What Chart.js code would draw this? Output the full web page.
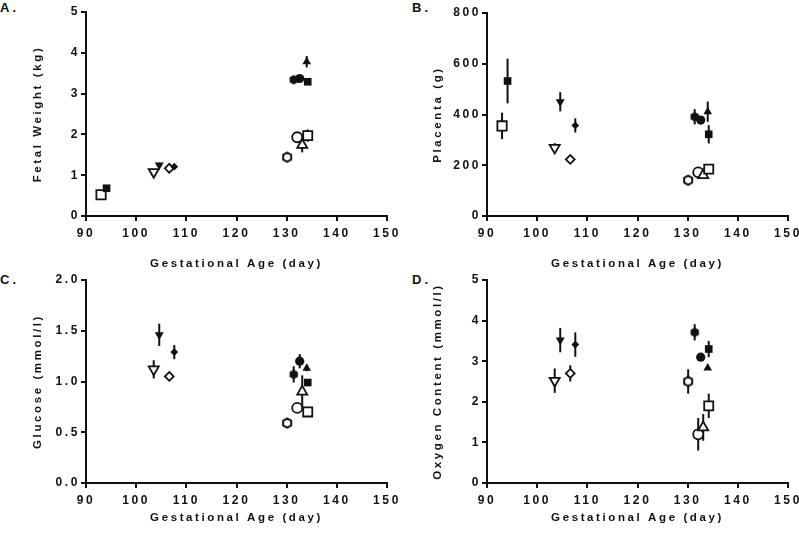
<!DOCTYPE html>
<html>
<head>
<meta charset="utf-8">
<script src="https://cdn.jsdelivr.net/npm/chart.js@4.4.1/dist/chart.umd.min.js"></script>
<style>
  body { margin: 0; width: 799px; height: 533px; overflow: hidden; background: #fff; position: relative; }
  .panel { position: absolute; }
  .tag { position: absolute; font: bold 13px "Liberation Sans", Arial, sans-serif; letter-spacing: 3px; color: #111; }
</style>
</head>
<body>
<div class="tag" style="left:0;top:0">A.</div>
<div class="tag" style="left:412px;top:0">B.</div>
<div class="tag" style="left:0;top:272px">C.</div>
<div class="tag" style="left:412px;top:272px">D.</div>
<div class="panel" style="left:0;top:0;width:420px;height:279px"><canvas id="chart-a"></canvas></div>
<div class="panel" style="left:400px;top:0;width:420px;height:279px"><canvas id="chart-b"></canvas></div>
<div class="panel" style="left:0;top:266px;width:420px;height:267px"><canvas id="chart-c"></canvas></div>
<div class="panel" style="left:400px;top:266px;width:420px;height:267px"><canvas id="chart-d"></canvas></div>
<script>
// gestational age (day) of each group, same order in every panel
const days = [93, 94.1, 103.5, 104.6, 106.6, 107.6, 130.1, 132.1, 133.1, 134.2, 131.4, 132.6, 134.0, 134.2];

const fetalWeight = [0.52, 0.68, 1.08, 1.25, 1.17, 1.21, 1.44, 1.93, 1.74, 1.97, 3.34, 3.37, 3.78, 3.29];
const fetalWeightErr = [0.05, 0.03, 0.05, 0.06, 0.04, 0.04, 0.05, 0.05, 0.18, 0.15, 0.08, 0.05, 0.14, 0.08];

const placenta = [355, 532, 269, 450, 223, 357, 141, 172, 161, 185, 391, 378, 411, 322];
const placentaErr = [52, 88, 18, 38, 10, 28, 8, 10, 15, 20, 30, 12, 40, 36];

const glucose = [null, null, 1.12, 1.46, 1.05, 1.29, 0.59, 0.74, 0.90, 0.70, 1.07, 1.20, 1.13, 0.99];
const glucoseErr = [null, null, 0.09, 0.11, 0.02, 0.07, 0.04, 0.03, 0.16, 0.05, 0.08, 0.07, 0.03, 0.03];

const oxygen = [null, null, 2.52, 3.52, 2.70, 3.41, 2.50, 1.20, 1.37, 1.90, 3.71, 3.10, 2.83, 3.30];
const oxygenErr = [null, null, 0.3, 0.3, 0.2, 0.3, 0.3, 0.4, 0.33, 0.3, 0.2, 0.05, 0.05, 0.2];

const xTicks = [90, 100, 110, 120, 130, 140, 150];

// marker look per group
function hexagon(r, filled) {
  const c = document.createElement('canvas');
  c.width = c.height = Math.ceil(r * 2 + 4);
  const g = c.getContext('2d');
  g.beginPath();
  for (let k = 0; k < 6; k++) {
    const a = Math.PI / 6 + k * Math.PI / 3;
    const px = c.width / 2 + r * Math.cos(a), py = c.height / 2 + r * Math.sin(a);
    k ? g.lineTo(px, py) : g.moveTo(px, py);
  }
  g.closePath();
  g.fillStyle = filled ? '#111' : '#fff';
  g.fill();
  if (!filled) { g.lineWidth = 2; g.strokeStyle = '#111'; g.stroke(); }
  return c;
}
const hexOpen = hexagon(4.6, false);
const hexFill = hexagon(4.8, true);

const shapes = ['rect', 'rect', 'triangle', 'triangle', 'rectRot', 'rectRot', hexOpen, 'circle', 'triangle', 'rect', hexFill, 'circle', 'triangle', 'rect'];
const filled = [false, true, false, true, false, true, false, false, false, false, true, true, true, true];
const rotation = [0, 0, 180, 180, 0, 0, 0, 0, 0, 0, 0, 0, 0, 0];
const radius = [6.6, 5.4, 5.8, 5.2, 4.4, 3.9, 5, 5, 5.8, 6.4, 5, 4.6, 5, 5.4];

const tickFont = { family: 'Liberation Sans', size: 12, weight: 'bold' };
const titleFont = { family: 'Liberation Sans', size: 11.5, weight: 'bold' };

const spacing = {
  id: 'spacing',
  beforeLayout(chart) { chart.ctx.letterSpacing = '2.6px'; },
  beforeDraw(chart) { chart.ctx.letterSpacing = '2.6px'; }
};

const errorBars = {
  id: 'errorBars',
  beforeDatasetsDraw(chart) {
    const { ctx, scales: { x, y } } = chart;
    const ds = chart.data.datasets[0];
    ctx.save();
    ctx.strokeStyle = '#111';
    ctx.lineWidth = 2;
    ds.data.forEach((p, i) => {
      const e = ds.errors[i];
      if (p.y == null || !e) return;
      const px = x.getPixelForValue(p.x);
      ctx.beginPath();
      ctx.moveTo(px, y.getPixelForValue(p.y + e));
      ctx.lineTo(px, y.getPixelForValue(p.y - e));
      ctx.stroke();
    });
    ctx.restore();
  }
};

function makeChart(id, values, errors, yMax, yStep, yTitle, yWidth, xHeight, pad) {
  const ctx = document.getElementById(id).getContext('2d');
  return new Chart(ctx, {
    type: 'scatter',
    data: {
      datasets: [{
        data: days.map((d, i) => ({ x: d, y: values[i] })),
        errors: errors,
        pointStyle: shapes,
        pointRotation: rotation,
        pointRadius: radius,
        pointBorderWidth: filled.map(f => f ? 0 : 1.8),
        pointBackgroundColor: filled.map(f => f ? '#111' : '#fff'),
        pointBorderColor: '#111'
      }]
    },
    options: {
      responsive: true,
      maintainAspectRatio: false,
      animation: false,
      events: [],
      layout: { padding: pad },
      plugins: { legend: { display: false }, tooltip: { enabled: false } },
      scales: {
        x: {
          type: 'linear', min: 90, max: 150,
          afterBuildTicks: s => { s.ticks = xTicks.map(v => ({ value: v })); },
          afterFit: s => { s.height = xHeight; },
          ticks: { font: tickFont, color: '#111', padding: 5 },
          grid: { drawOnChartArea: false, tickLength: 5, color: '#111', lineWidth: 2 },
          border: { color: '#111', width: 2 },
          title: { display: true, text: 'Gestational Age (day)', font: titleFont, color: '#111', padding: { top: 4, bottom: 8 } }
        },
        y: {
          min: 0, max: yMax,
          afterFit: s => { s.width = yWidth; },
          ticks: { stepSize: yStep, font: tickFont, color: '#111', padding: 1,
                   callback: v => yStep < 1 ? v.toFixed(1) : String(v) },
          grid: { drawOnChartArea: false, tickLength: 5, color: '#111', lineWidth: 2 },
          border: { color: '#111', width: 2 },
          title: { display: true, text: yTitle, font: titleFont, color: '#111', padding: { top: 31, bottom: 0 } }
        }
      }
    },
    plugins: [spacing, errorBars]
  });
}

makeChart('chart-a', fetalWeight, fetalWeightErr, 5, 1, 'Fetal Weight (kg)', 86, 63, { top: 12, right: 33, left: 0, bottom: 0 });
makeChart('chart-b', placenta, placentaErr, 800, 200, 'Placenta (g)', 87, 63, { top: 13, right: 32, left: 0, bottom: 0 });
makeChart('chart-c', glucose, glucoseErr, 2, 0.5, 'Glucose (mmol/l)', 86, 50, { top: 14, right: 33, left: 0, bottom: 0 });
makeChart('chart-d', oxygen, oxygenErr, 5, 1, 'Oxygen Content (mmol/l)', 87, 50, { top: 14, right: 32, left: 0, bottom: 0 });
</script>
</body>
</html>
